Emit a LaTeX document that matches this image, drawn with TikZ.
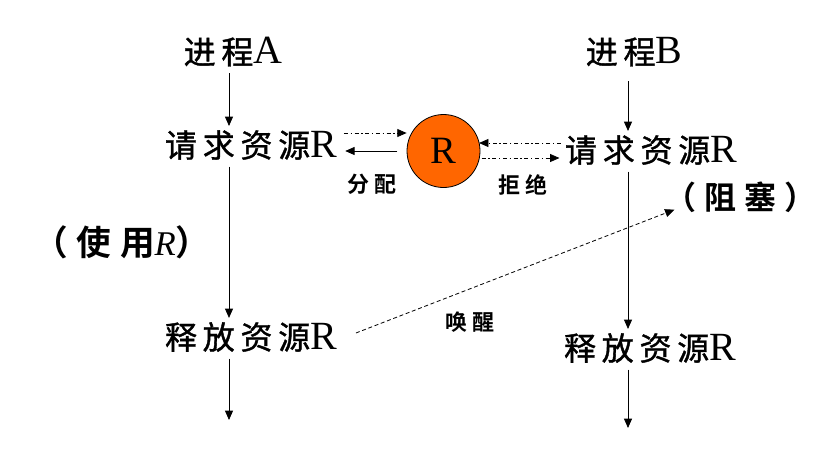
\documentclass[tikz,border=0pt]{standalone}
\usepackage{fontspec}
\setmainfont{Liberation Serif}
\newfontfamily\cjk[LetterSpace=18,FakeBold=1.2]{Noto Sans CJK SC}
\newfontfamily\cjkb[LetterSpace=25]{Noto Sans CJK SC Bold}
\newcommand{\lat}[1]{{\fontsize{30}{30}\selectfont #1}}
\usetikzlibrary{arrows.meta,calc}
\definecolor{rorange}{HTML}{FF6600}
\begin{document}
\begin{tikzpicture}[x=0.75pt,y=-0.75pt,
  big/.style={inner sep=0pt,font=\fontsize{24}{26}\selectfont},
  small/.style={inner sep=0pt,font=\fontsize{16.5}{18}\selectfont},
  arr/.style={-{Triangle[length=7pt,width=6pt]},line width=0.6pt},
  dd/.style={arr,dash pattern=on 3pt off 2pt on 1pt off 2pt},
  dsh/.style={arr,dash pattern=on 3pt off 2pt}]
\useasboundingbox (0,0) rectangle (820,461);
% columns
\coordinate (colA) at (229,0);
\coordinate (colB) at (628,0);
\coordinate (endA) at (229,420);
\coordinate (endB) at (628,428);
% nodes
\node[big] (pA) at (233,52) {{\cjk 进程}\lat{A}};
\node[big] (pB) at (634,52) {{\cjk 进程}\lat{B}};
\node[big] (reqA) at (251,145) {{\cjk 请求资源}\lat{R}};
\node[big] (reqB) at (651,150) {{\cjk 请求资源}\lat{R}};
\node[big] (relA) at (251,337) {{\cjk 释放资源}\lat{R}};
\node[big] (relB) at (650,348) {{\cjk 释放资源}\lat{R}};
\node[big,font=\fontsize{26}{28}\selectfont] (use) at (122,242) {{\cjkb （使用}\textit{R}{\cjkb ）}};
\node[big] (block) at (740,197) {{\cjkb （阻塞）}};
\node[circle,draw,line width=0.6pt,fill=rorange,minimum size=54.75pt,inner sep=0pt,font=\fontsize{29}{30}\selectfont] (R) at (443.5,151) {R};
\node[small] (fp) at (372,184) {\cjkb 分配};
\node[small] (jj) at (523,185) {\cjkb 拒绝};
\node[small] (hx) at (470,322) {\cjkb 唤醒};
% column A
\draw[arr] ([yshift=-5pt]pA.south -| colA) -- ([yshift=3pt]reqA.north -| colA);
\draw[arr] ([yshift=-5pt]reqA.south -| colA) -- ([yshift=3pt]relA.north -| colA);
\draw[arr] ([yshift=-5pt]relA.south -| colA) -- (endA);
% column B
\draw[arr] ([yshift=-11pt]pB.south -| colB) -- ([yshift=3pt]reqB.north -| colB);
\draw[arr] ([yshift=-5pt]reqB.south -| colB) -- ([yshift=3pt]relB.north -| colB);
\draw[arr] ([yshift=-5pt]relB.south -| colB) -- (endB);
% resource interactions
\draw[dd] ([xshift=5pt]reqA.east |- 0,133) -- (R.west |- 0,133);
\draw[arr] ([xshift=-7pt]R.west) -- ([xshift=6pt]reqA.east |- R.west);
\draw[dd] ([xshift=-3pt]reqB.west |- 0,143) -- ([xshift=-1pt]R.east |- 0,143);
\draw[dd] ([xshift=1pt]R.east |- 0,158) -- ([xshift=-4pt]reqB.west |- 0,158);
% wake-up
\draw[dsh] ([xshift=14pt,yshift=3pt]relA.east) -- ([xshift=8pt,yshift=-9.5pt]block.west);
\end{tikzpicture}
\end{document}
